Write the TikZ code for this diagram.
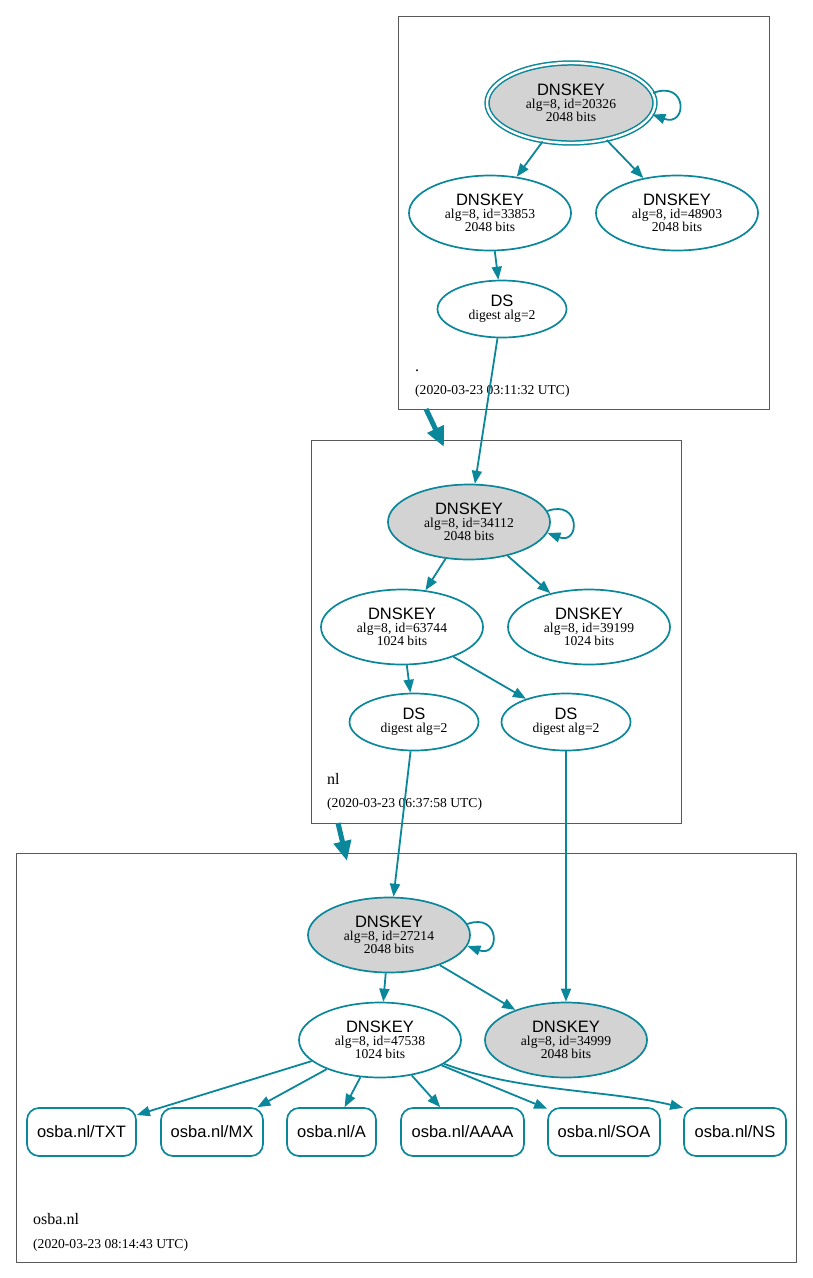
\documentclass[tikz,border=0pt]{standalone}
\usepackage{fontspec}
\setmainfont{Liberation Serif}
\setsansfont{Liberation Sans}
\usetikzlibrary{shapes.geometric,arrows.meta}
\definecolor{dnsteal}{HTML}{0A879A}
\definecolor{keygray}{HTML}{D3D3D3}
\newcommand{\keylbl}[2]{{\sffamily\fontsize{16.5}{17}\selectfont DNSKEY}\\alg=8, id=#1\\#2 bits}
\newcommand{\dslbl}{{\sffamily\fontsize{16.5}{17}\selectfont DS}\\digest alg=2}
\begin{document}
\begin{tikzpicture}[x=1pt, y=1pt, font=\fontsize{13.6}{12.8}\selectfont,
  zone/.style={draw=black!65, line width=0.7pt},
  key/.style={ellipse, draw=dnsteal, line width=1.7pt, minimum width=162pt, minimum height=75pt, inner sep=0pt, align=center},
  ksk/.style={key, fill=keygray},
  dsnode/.style={key, minimum width=129pt, minimum height=57pt},
  rr/.style={draw=dnsteal, line width=1.7pt, rounded corners=12pt, minimum height=48pt, inner sep=0pt, font=\sffamily\fontsize{16.5}{18}\selectfont},
  sig/.style={draw=dnsteal, line width=1.8pt, -{Triangle[length=13pt,width=10pt]}},
  zonelink/.style={draw=dnsteal, line width=5pt, -{Triangle[length=20pt,width=17pt]}},
  zonename/.style={anchor=base west, inner sep=0pt, font=\fontsize{16}{18}\selectfont},
  zonedate/.style={anchor=base west, inner sep=0pt}]
 \useasboundingbox (0,0) rectangle (812,-1278);
 % zones
 \draw[zone] (398,-16) rectangle (769,-409);
 \draw[zone] (311,-440) rectangle (681,-823);
 \draw[zone] (16,-853) rectangle (796,-1262);
 \node[zonename] (rootname) at (415,-371) {.};
 \node[zonedate] (rootdate) at (415,-394) {(2020-03-23 03:11:32 UTC)};
 \node[zonename] (nlname) at (327,-784) {nl};
 \node[zonedate] (nldate) at (327,-807) {(2020-03-23 06:37:58 UTC)};
 \node[zonename] (osbaname) at (33,-1224) {osba.nl};
 \node[zonedate] (osbadate) at (33,-1248) {(2020-03-23 08:14:43 UTC)};
 % root
 \node[ksk, minimum width=168pt, minimum height=80pt, double=white, double distance=2.4pt, line width=1.5pt] (k20326) at (571,-103) {\keylbl{20326}{2048}};
 \node[key] (k33853) at (490,-213) {\keylbl{33853}{2048}};
 \node[key] (k48903) at (677,-213) {\keylbl{48903}{2048}};
 \node[dsnode] (rootds) at (502,-309) {\dslbl};
 % nl
 \node[ksk] (k34112) at (469,-522) {\keylbl{34112}{2048}};
 \node[key] (k63744) at (402,-627) {\keylbl{63744}{1024}};
 \node[key] (k39199) at (589,-627) {\keylbl{39199}{1024}};
 \node[dsnode] (nlds1) at (414,-722) {\dslbl};
 \node[dsnode] (nlds2) at (566,-722) {\dslbl};
 % osba.nl
 \node[ksk] (k27214) at (389,-935) {\keylbl{27214}{2048}};
 \node[key] (k47538) at (380,-1040) {\keylbl{47538}{1024}};
 \node[ksk] (k34999) at (566,-1040) {\keylbl{34999}{2048}};
 \node[rr, minimum width=109pt] (rtxt) at (81.5,-1132) {osba.nl/TXT};
 \node[rr, minimum width=102pt] (rmx) at (212,-1132) {osba.nl/MX};
 \node[rr, minimum width=89pt] (ra) at (331.5,-1132) {osba.nl/A};
 \node[rr, minimum width=123pt] (raaaa) at (462.5,-1132) {osba.nl/AAAA};
 \node[rr, minimum width=112pt] (rsoa) at (604,-1132) {osba.nl/SOA};
 \node[rr, minimum width=102pt] (rns) at (735,-1132) {osba.nl/NS};
 % links
 \draw[sig] (k20326.7) .. controls +(35,13) and +(35,-13) .. (k20326.-8);
 \draw[sig] (k20326) -- (k33853);
 \draw[sig] (k20326) -- (k48903);
 \draw[sig] (k33853) -- (rootds);
 \draw[sig] (rootds) -- (k34112);
 \draw[sig] (k34112.8) .. controls +(33,12) and +(33,-12) .. (k34112.-8);
 \draw[sig] (k34112) -- (k63744);
 \draw[sig] (k34112) -- (k39199);
 \draw[sig] (k63744) -- (nlds1);
 \draw[sig] (k63744) -- (nlds2);
 \draw[sig] (nlds1) -- (k27214);
 \draw[sig] (nlds2) -- (k34999);
 \draw[sig] (k27214.8) .. controls +(33,12) and +(33,-12) .. (k27214.-8);
 \draw[sig] (k27214) -- (k47538);
 \draw[sig] (k27214) -- (k34999);
 \draw[sig] (k47538) -- (rtxt);
 \draw[sig] (k47538) -- (rmx);
 \draw[sig] (k47538) -- (ra);
 \draw[sig] (k47538) -- (raaaa);
 \draw[sig] (k47538) -- (rsoa);
 \draw[sig] (k47538) .. controls (520,-1092) and (610,-1090) .. (rns.155);
 \coordinate (rootexit) at (426,-409);
 \coordinate (nlentry) at (444,-447);
 \coordinate (nlexit) at (338,-823);
 \coordinate (osbaentry) at (347,-861);
 \draw[zonelink] (rootexit) -- (nlentry);
 \draw[zonelink] (nlexit) -- (osbaentry);
\end{tikzpicture}
\end{document}
